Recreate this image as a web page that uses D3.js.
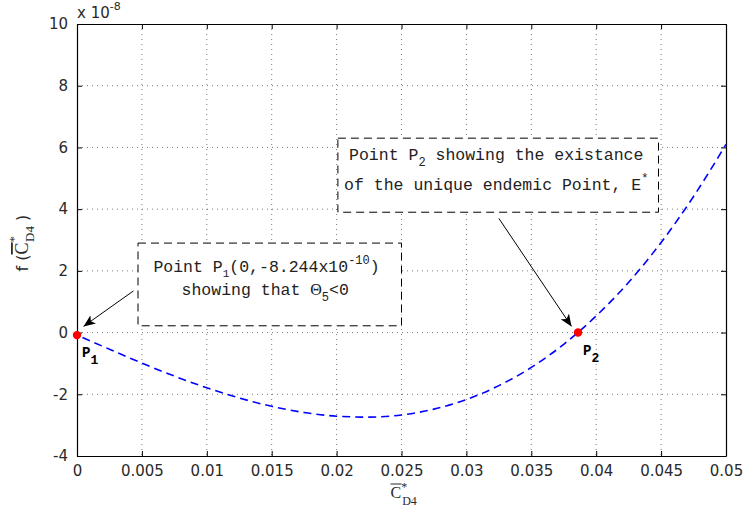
<!DOCTYPE html>
<html>
<head>
<meta charset="utf-8">
<script src="https://cdn.jsdelivr.net/npm/d3@7"></script>
<style>
  body { margin: 0; background: #fff; }
  .tick text { font-family: "DejaVu Sans", sans-serif; font-size: 15px; fill: #2a2a2a; }
  .mono { font-family: "Liberation Mono", "Courier New", monospace; font-size: 16.5px; fill: #222; }
</style>
</head>
<body>
<div class="chart"></div>
<script>
// data (y in units of 1e-8)
var xVals = [0, 0.0025, 0.005, 0.0075, 0.01, 0.0125, 0.015, 0.0175, 0.02, 0.0225, 0.025,
             0.0275, 0.03, 0.0325, 0.035, 0.0375, 0.04, 0.0425, 0.045, 0.0475, 0.05];
var fVals = [-0.08, -0.54, -0.99, -1.41, -1.79, -2.12, -2.39, -2.59, -2.71, -2.74, -2.67,
             -2.48, -2.17, -1.72, -1.13, -0.38, 0.54, 1.63, 2.92, 4.41, 6.1];
var points = [{name: "1", x: 0, y: -0.08244}, {name: "2", x: 0.0386, y: 0}];
var xTicks = [0, 0.005, 0.01, 0.015, 0.02, 0.025, 0.03, 0.035, 0.04, 0.045, 0.05];
var yTicks = [-4, -2, 0, 2, 4, 6, 8, 10];

var svgWidth = 747, svgHeight = 515;
var margin = {top: 24, right: 21, bottom: 59, left: 77};
var width = svgWidth - margin.left - margin.right;
var height = svgHeight - margin.top - margin.bottom;

var svg = d3.select(".chart").append("svg")
  .attr("width", svgWidth)
  .attr("height", svgHeight);

svg.append("defs").append("marker")
  .attr("id", "arrow")
  .attr("viewBox", "0 0 12 10")
  .attr("refX", 12).attr("refY", 5)
  .attr("markerWidth", 12).attr("markerHeight", 10)
  .attr("markerUnits", "userSpaceOnUse")
  .attr("orient", "auto")
  .append("path")
  .attr("d", "M0,0 L12,5 L0,10 L3,5 Z")
  .attr("fill", "#000");

var g = svg.append("g").attr("transform", `translate(${margin.left},${margin.top})`);

var x = d3.scaleLinear().domain([0, 0.05]).range([0, width]);
var y = d3.scaleLinear().domain([-4, 10]).range([height, 0]);

// grid
g.append("g").selectAll("line").data(xTicks.slice(1, -1)).enter().append("line")
  .attr("x1", d => x(d)).attr("x2", d => x(d))
  .attr("y1", 0).attr("y2", height)
  .attr("stroke", "#555").attr("stroke-width", 0.8).attr("stroke-dasharray", "1,4");
g.append("g").selectAll("line").data(yTicks.slice(1, -1)).enter().append("line")
  .attr("x1", 0).attr("x2", width)
  .attr("y1", d => y(d)).attr("y2", d => y(d))
  .attr("stroke", "#555").attr("stroke-width", 0.8).attr("stroke-dasharray", "1,4");

// axes
var fmt = d => String(d);
g.append("g").attr("transform", `translate(0,${height})`)
  .call(d3.axisBottom(x).tickValues(xTicks).tickFormat(fmt).tickSizeInner(-5).tickSizeOuter(0).tickPadding(9));
g.append("g").attr("transform", `translate(0,0)`)
  .call(d3.axisTop(x).tickValues(xTicks).tickFormat("").tickSizeInner(-5).tickSizeOuter(0));
g.append("g")
  .call(d3.axisLeft(y).tickValues(yTicks).tickFormat(fmt).tickSizeInner(-5).tickSizeOuter(0).tickPadding(9));
g.append("g").attr("transform", `translate(${width},0)`)
  .call(d3.axisRight(y).tickValues(yTicks).tickFormat("").tickSizeInner(-5).tickSizeOuter(0));
g.selectAll(".domain").attr("stroke", "#000").attr("stroke-width", 1.2);
g.selectAll(".tick line").attr("stroke", "#000");

// curve
var line = d3.line().x((d, i) => x(xVals[i])).y(d => y(d)).curve(d3.curveMonotoneX);
g.append("path").datum(fVals)
  .attr("d", line)
  .attr("fill", "none")
  .attr("stroke", "#0000ff")
  .attr("stroke-width", 1.6)
  .attr("stroke-dasharray", "8,5")
  .attr("stroke-dashoffset", -6);

// red points
g.selectAll(".pt").data(points).enter().append("circle")
  .attr("cx", d => x(d.x)).attr("cy", d => y(d.y)).attr("r", 4.2)
  .attr("fill", "#ff0000");

// P labels
points.forEach(function(p) {
  var t = g.append("text")
    .attr("x", x(p.x) + 5).attr("y", y(p.y) + 22)
    .attr("font-family", "Liberation Mono, monospace")
    .attr("font-weight", "bold").attr("font-size", 14).attr("fill", "#000");
  t.append("tspan").text("P");
  t.append("tspan").attr("dy", 7).attr("font-size", 13).text(p.name);
});

// annotation boxes
function box(x0, y0, x1, y1) {
  g.append("rect")
    .attr("x", x(x0)).attr("y", y(y0))
    .attr("width", x(x1) - x(x0)).attr("height", y(y1) - y(y0))
    .attr("fill", "#fff").attr("stroke", "#000")
    .attr("stroke-width", 1).attr("stroke-dasharray", "8,5");
}
box(0.0047, 2.9, 0.025, 0.22);
box(0.0201, 6.3, 0.0448, 3.9);

// box 1 text
var t1 = g.append("text").attr("class", "mono").attr("text-anchor", "middle")
  .attr("x", x(0.0146)).attr("y", y(1.97));
t1.append("tspan").text("Point P");
t1.append("tspan").attr("dy", 5).attr("font-size", 11).text("1");
t1.append("tspan").attr("dy", -5).text("(0,-8.244x10");
t1.append("tspan").attr("dy", -8).attr("font-size", 12).text("-10");
t1.append("tspan").attr("dy", 8).text(")");
var t1b = g.append("text").attr("class", "mono").attr("text-anchor", "middle")
  .attr("x", x(0.0145)).attr("y", y(1.22));
t1b.append("tspan").text("showing that ");
t1b.append("tspan").attr("font-family", "Liberation Serif, serif").attr("font-size", 16).text("Θ");
t1b.append("tspan").attr("dy", 6).attr("font-size", 12).text("5");
t1b.append("tspan").attr("dy", -6).text("<0");

// box 2 text
var t2 = g.append("text").attr("class", "mono").attr("text-anchor", "middle")
  .attr("x", x(0.0323)).attr("y", y(5.6));
t2.append("tspan").text("Point P");
t2.append("tspan").attr("dy", 6).attr("font-size", 12).text("2");
t2.append("tspan").attr("dy", -6).text(" showing the existance");
var t2b = g.append("text").attr("class", "mono").attr("text-anchor", "middle")
  .attr("x", x(0.0323)).attr("y", y(4.62));
t2b.append("tspan").text("of the unique endemic Point, E");
t2b.append("tspan").attr("dy", -8).attr("font-size", 12).text("*");

// arrows
g.append("line")
  .attr("x1", x(0.00435)).attr("y1", y(1.35))
  .attr("x2", x(0.0005)).attr("y2", y(0.2))
  .attr("stroke", "#000").attr("stroke-width", 1).attr("marker-end", "url(#arrow)");
g.append("line")
  .attr("x1", x(0.0325)).attr("y1", y(3.7))
  .attr("x2", x(0.0381)).attr("y2", y(0.2))
  .attr("stroke", "#000").attr("stroke-width", 1).attr("marker-end", "url(#arrow)");

// exponent label
var ex = svg.append("text")
  .attr("x", margin.left).attr("y", 18)
  .attr("font-family", "DejaVu Sans, sans-serif").attr("font-size", 15).attr("fill", "#2a2a2a");
ex.append("tspan").text("x 10");
ex.append("tspan").attr("dy", -8).attr("font-size", 11).text("-8");

// x axis label (overline drawn as a line)
var xlx = margin.left + x(0.025) - 11;
var xl = svg.append("text")
  .attr("x", xlx).attr("y", 498)
  .attr("font-family", "Liberation Serif, serif").attr("font-size", 16).attr("fill", "#2a2a2a");
xl.append("tspan").text("C");
xl.append("tspan").attr("dy", -7).attr("font-size", 12).text("*");
xl.append("tspan").attr("dx", -5).attr("dy", 14).attr("font-size", 12).text("D4");
svg.append("line")
  .attr("x1", xlx).attr("x2", xlx + 11)
  .attr("y1", 484).attr("y2", 484)
  .attr("stroke", "#2a2a2a").attr("stroke-width", 1);

// y axis label
var yl = svg.append("text")
  .attr("transform", `translate(28,${margin.top + y(2.9)}) rotate(-90)`)
  .attr("text-anchor", "middle")
  .attr("font-family", "DejaVu Sans, sans-serif").attr("font-size", 16).attr("fill", "#2a2a2a");
yl.append("tspan").text("f (");
yl.append("tspan").attr("text-decoration", "overline").attr("font-family", "Liberation Serif, serif").attr("font-size", 18).text("C");
yl.append("tspan").attr("dy", -10).attr("font-size", 13).attr("font-family", "Liberation Serif, serif").text("*");
yl.append("tspan").attr("dx", -6).attr("dy", 16).attr("font-size", 13).attr("font-family", "Liberation Serif, serif").text("D4");
yl.append("tspan").attr("dy", -6).text(" )");
</script>
</body>
</html>
